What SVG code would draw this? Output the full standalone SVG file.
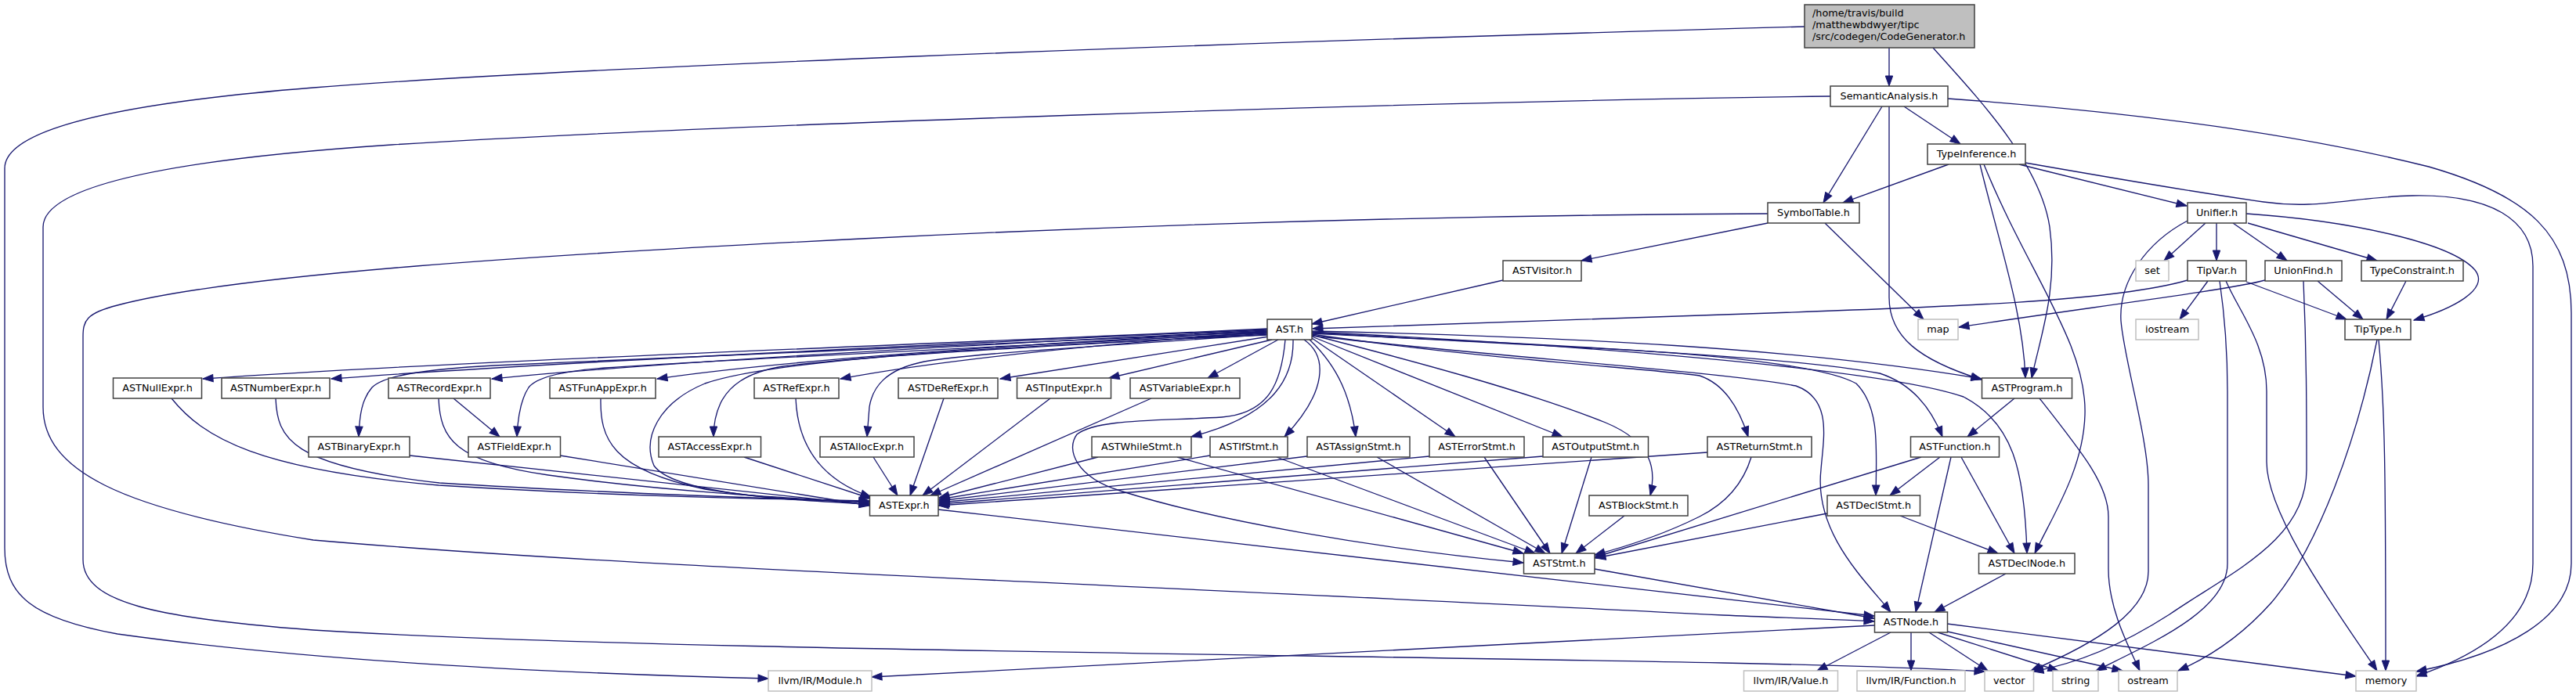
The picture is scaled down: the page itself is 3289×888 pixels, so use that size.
<svg xmlns="http://www.w3.org/2000/svg" width="3289" height="888" viewBox="0 0 3289 888">
<style>
.e{fill:none;stroke:#191970;stroke-width:1.33;marker-end:url(#ah)}
.n rect{fill:#ffffff;stroke:#404040;stroke-width:1.5}
.g rect{fill:#ffffff;stroke:#bfbfbf;stroke-width:1.5}
text{font-family:"DejaVu Sans","Liberation Sans",sans-serif;font-size:12.8px;fill:#000000;text-anchor:middle}
</style>
<defs>
<marker id="ah" markerUnits="userSpaceOnUse" markerWidth="14" markerHeight="10" refX="13" refY="4.7" orient="auto" overflow="visible">
<path d="M0,0 L13,4.7 L0,9.4 z" fill="#191970" stroke="#191970" stroke-width="1"/>
</marker>
</defs>
<rect width="3289" height="888" fill="#ffffff"/>
<g id="edges">
<path class="e" d="M2412,61 L2412,110"/>
<path class="e" d="M2468,61 C2530,130 2605,210 2617,290 C2628,370 2605,430 2594,483"/>
<path class="e" d="M2304,34 C1500,56 700,88 400,112 C150,132 6,165 6,215 L6,700 C6,760 40,790 150,810 C400,845 700,860 981,867"/>
<path class="e" d="M2337,123 C1800,130 900,160 500,185 C200,205 55,240 55,290 L55,520 C55,600 150,650 400,690 C800,725 1400,745 2200,786 C2300,790 2360,792 2393,794"/>
<path class="e" d="M2257,273 C1800,275 1400,290 1100,305 C700,325 300,350 150,390 C110,400 106,410 106,430 L106,715 C106,770 200,790 400,805 C800,830 1600,835 2200,847 C2400,851 2480,855 2534,858"/>
<path class="e" d="M2431,136 L2503,184"/>
<path class="e" d="M2403,136 L2328,259"/>
<path class="e" d="M2412,136 L2412,380 C2412,430 2450,460 2530,485"/>
<path class="e" d="M2487,126 C2750,145 2950,175 3101,213 C3230,250 3283,300 3283,400 L3283,720 C3283,790 3200,835 3085,858"/>
<path class="e" d="M2488,210 L2353,259"/>
<path class="e" d="M2578,210 L2792,263"/>
<path class="e" d="M2586,208 C2700,228 2820,248 2890,258 C2960,268 3000,252 3080,250 C3180,248 3234,280 3234,340 L3234,720 C3234,790 3170,835 3085,864"/>
<path class="e" d="M2528,210 C2555,320 2583,400 2586,483"/>
<path class="e" d="M2533,210 C2590,350 2665,440 2662,530 C2660,600 2620,660 2598,707"/>
<path class="e" d="M2257,285 L2019,333"/>
<path class="e" d="M2330,285 L2456,408"/>
<path class="e" d="M1919,358 L1675,414"/>
<path class="e" d="M2816,285 L2763,333"/>
<path class="e" d="M2830,285 L2830,333"/>
<path class="e" d="M2851,285 L2920,333"/>
<path class="e" d="M2870,285 L3035,333"/>
<path class="e" d="M2868,273 C3000,282 3130,310 3160,345 C3180,370 3130,395 3082,409"/>
<path class="e" d="M2793,282 C2740,310 2705,360 2708,410 C2712,460 2743,560 2743,620 L2743,730 C2743,780 2680,820 2593,857"/>
<path class="e" d="M2793,358 C2700,385 2500,392 2200,402 C1950,410 1750,416 1676,420"/>
<path class="e" d="M2819,359 L2783,408"/>
<path class="e" d="M2868,360 L2996,408"/>
<path class="e" d="M2834,359 C2840,400 2844,450 2844,500 L2844,720 C2844,780 2750,820 2676,857"/>
<path class="e" d="M2842,359 C2860,400 2894,440 2894,500 L2894,590 C2894,660 2990,790 3035,857"/>
<path class="e" d="M2892,358 C2850,370 2650,395 2501,418"/>
<path class="e" d="M2959,359 L3017,408"/>
<path class="e" d="M2941,359 C2945,450 2945,520 2945,600 C2945,690 2850,730 2770,785 C2700,830 2640,850 2596,858"/>
<path class="e" d="M3072,359 L3047,408"/>
<path class="e" d="M3035,434 C3010,560 2960,700 2900,770 C2860,815 2820,840 2781,857"/>
<path class="e" d="M3037,434 C3045,520 3046,600 3046,857"/>
<path class="e" d="M2572,509 L2512,558"/>
<path class="e" d="M2604,509 C2660,580 2692,620 2692,660 L2692,727 C2692,780 2720,830 2732,857"/>
<path class="e" d="M2477,584 L2413,633"/>
<path class="e" d="M2504,584 L2572,707"/>
<path class="e" d="M2491,584 L2446,782"/>
<path class="e" d="M2453,584 L2036,712"/>
<path class="e" d="M2333,656 L2037,713"/>
<path class="e" d="M2426,659 L2551,707"/>
<path class="e" d="M2561,733 L2470,782"/>
<path class="e" d="M2236,584 C2225,620 2200,645 2170,660 C2120,685 2070,700 2036,709"/>
<path class="e" d="M2180,578 L1198,646"/>
<path class="e" d="M1402,584 L1199,636"/>
<path class="e" d="M1545,582 L1199,638"/>
<path class="e" d="M1669,583 L1199,640"/>
<path class="e" d="M1825,583 L1199,642"/>
<path class="e" d="M1970,583 L1199,644"/>
<path class="e" d="M1503,584 L1945,707"/>
<path class="e" d="M1630,584 L1960,707"/>
<path class="e" d="M1758,584 L1973,707"/>
<path class="e" d="M1895,584 L1979,707"/>
<path class="e" d="M2032,584 L1994,707"/>
<path class="e" d="M2074,659 L2012,707"/>
<path class="e" d="M1198,651 L2393,787"/>
<path class="e" d="M2036,727 L2393,790"/>
<path class="e" d="M2393,799 L1113,865"/>
<path class="e" d="M2414,808 L2320,857"/>
<path class="e" d="M2440,808 L2440,857"/>
<path class="e" d="M2463,808 L2538,857"/>
<path class="e" d="M2474,808 L2628,857"/>
<path class="e" d="M2482,806 L2710,857"/>
<path class="e" d="M2486,797 L3008,864"/>
<path class="e" d="M219,509 C260,560 330,600 560,620 C800,635 1000,638 1110,640"/>
<path class="e" d="M352,509 C354,560 370,595 561,617 C800,632 1000,637 1110,641"/>
<path class="e" d="M560,509 C562,560 580,590 700,607 C850,628 1000,636 1110,642"/>
<path class="e" d="M579,509 L638,558"/>
<path class="e" d="M767,509 C766,560 780,600 900,625 C980,638 1050,641 1110,644"/>
<path class="e" d="M523,582 L1110,645"/>
<path class="e" d="M715,582 L1110,646"/>
<path class="e" d="M950,584 L1112,637"/>
<path class="e" d="M1016,509 C1018,560 1040,610 1112,635"/>
<path class="e" d="M1115,584 L1146,633"/>
<path class="e" d="M1205,509 L1162,633"/>
<path class="e" d="M1341,509 L1178,633"/>
<path class="e" d="M1470,509 L1188,633"/>
<path class="e" d="M1618,420 C1200,440 600,460 259,484"/>
<path class="e" d="M1618,421 C1200,440 700,463 423,484"/>
<path class="e" d="M1618,422 C1250,440 850,462 628,484"/>
<path class="e" d="M1618,423 C1300,440 1000,460 839,484"/>
<path class="e" d="M1618,424 C1400,440 1200,460 1073,484"/>
<path class="e" d="M1620,430 L1277,484"/>
<path class="e" d="M1624,434 L1416,483"/>
<path class="e" d="M1632,434 L1542,483"/>
<path class="e" d="M1618,424 C1300,438 900,455 631,467 C540,472 490,480 475,495 C462,510 459,530 458,558"/>
<path class="e" d="M1618,425 C1350,440 1000,455 772,470 C720,474 685,482 675,495 C665,510 661,535 660,558"/>
<path class="e" d="M1618,426 C1400,440 1150,450 1000,468 C950,476 930,495 920,515 C913,530 911,545 911,558"/>
<path class="e" d="M1618,427 C1450,440 1250,450 1180,462 C1130,472 1114,495 1110,520 L1107,558"/>
<path class="e" d="M1618,428 C1350,440 1000,455 900,490 C840,515 820,560 835,595 C860,630 1000,640 1110,641"/>
<path class="e" d="M1651,434 C1652,480 1630,530 1521,558"/>
<path class="e" d="M1641,434 C1636,490 1620,528 1560,533 C1480,538 1400,535 1375,555 C1360,575 1375,610 1430,627 C1550,665 1750,700 1945,719"/>
<path class="e" d="M1665,434 C1695,455 1695,500 1640,558"/>
<path class="e" d="M1672,434 C1710,470 1725,510 1731,558"/>
<path class="e" d="M1675,432 L1858,558"/>
<path class="e" d="M1675,430 L1995,558"/>
<path class="e" d="M1675,428 C1800,460 1950,500 2050,540 C2110,565 2115,600 2107,633"/>
<path class="e" d="M1675,427 C1900,460 2100,470 2170,480 C2200,490 2220,520 2232,558"/>
<path class="e" d="M1675,425 C1900,440 2250,450 2400,477 C2440,490 2465,520 2480,558"/>
<path class="e" d="M1675,426 C1950,440 2300,450 2370,490 C2400,520 2396,570 2395,633"/>
<path class="e" d="M1675,424 C2000,440 2400,470 2507,507 C2570,540 2585,600 2588,707"/>
<path class="e" d="M1675,429 C1900,455 2200,475 2293,493 C2340,510 2328,560 2325,600 C2316,680 2380,740 2414,782"/>
<path class="e" d="M1675,423 C2000,430 2300,445 2530,484"/>
</g>
<g id="n_codegen" class="n"><rect x="2304" y="6" width="217" height="55" style="fill:#bfbfbf"/><text x="2314" y="21" style="text-anchor:start">/home/travis/build</text><text x="2314" y="36" style="text-anchor:start">/matthewbdwyer/tipc</text><text x="2314" y="51" style="text-anchor:start">/src/codegen/CodeGenerator.h</text></g>
<g id="n_semantic" class="n"><rect x="2337" y="110" width="150" height="26"/><text x="2412" y="127">SemanticAnalysis.h</text></g>
<g id="n_typeinf" class="n"><rect x="2461" y="184" width="125" height="26"/><text x="2523.5" y="201">TypeInference.h</text></g>
<g id="n_symtab" class="n"><rect x="2257" y="259" width="117" height="26"/><text x="2315.5" y="276">SymbolTable.h</text></g>
<g id="n_unifier" class="n"><rect x="2793" y="259" width="75" height="26"/><text x="2830.5" y="276">Unifier.h</text></g>
<g id="n_visitor" class="n"><rect x="1919" y="333" width="100" height="26"/><text x="1969" y="350">ASTVisitor.h</text></g>
<g id="n_set" class="g"><rect x="2727" y="333" width="42" height="26"/><text x="2748" y="350">set</text></g>
<g id="n_tipvar" class="n"><rect x="2793" y="333" width="75" height="26"/><text x="2830.5" y="350">TipVar.h</text></g>
<g id="n_unionfind" class="n"><rect x="2892" y="333" width="98" height="26"/><text x="2941" y="350">UnionFind.h</text></g>
<g id="n_typecons" class="n"><rect x="3015" y="333" width="130" height="26"/><text x="3080" y="350">TypeConstraint.h</text></g>
<g id="n_ast" class="n"><rect x="1618" y="408" width="57" height="26"/><text x="1646.5" y="425">AST.h</text></g>
<g id="n_map" class="g"><rect x="2449" y="408" width="51" height="26"/><text x="2474.5" y="425">map</text></g>
<g id="n_iostream" class="g"><rect x="2727" y="408" width="80" height="26"/><text x="2767" y="425">iostream</text></g>
<g id="n_tiptype" class="n"><rect x="2994" y="408" width="84" height="26"/><text x="3036" y="425">TipType.h</text></g>
<g id="n_null" class="n"><rect x="144.5" y="483" width="113" height="26"/><text x="201" y="500">ASTNullExpr.h</text></g>
<g id="n_number" class="n"><rect x="283" y="483" width="138" height="26"/><text x="352" y="500">ASTNumberExpr.h</text></g>
<g id="n_record" class="n"><rect x="496" y="483" width="130" height="26"/><text x="561" y="500">ASTRecordExpr.h</text></g>
<g id="n_funapp" class="n"><rect x="702" y="483" width="135" height="26"/><text x="769.5" y="500">ASTFunAppExpr.h</text></g>
<g id="n_ref" class="n"><rect x="963" y="483" width="108" height="26"/><text x="1017" y="500">ASTRefExpr.h</text></g>
<g id="n_deref" class="n"><rect x="1147" y="483" width="127" height="26"/><text x="1210.5" y="500">ASTDeRefExpr.h</text></g>
<g id="n_input" class="n"><rect x="1298.5" y="483" width="120" height="26"/><text x="1358.5" y="500">ASTInputExpr.h</text></g>
<g id="n_variable" class="n"><rect x="1443" y="483" width="140" height="26"/><text x="1513" y="500">ASTVariableExpr.h</text></g>
<g id="n_program" class="n"><rect x="2530.5" y="483" width="115" height="26"/><text x="2588" y="500">ASTProgram.h</text></g>
<g id="n_binary" class="n"><rect x="394" y="558" width="129" height="26"/><text x="458.5" y="575">ASTBinaryExpr.h</text></g>
<g id="n_field" class="n"><rect x="598" y="558" width="117.5" height="26"/><text x="656.75" y="575">ASTFieldExpr.h</text></g>
<g id="n_access" class="n"><rect x="841" y="558" width="130.5" height="26"/><text x="906.25" y="575">ASTAccessExpr.h</text></g>
<g id="n_alloc" class="n"><rect x="1047" y="558" width="120" height="26"/><text x="1107" y="575">ASTAllocExpr.h</text></g>
<g id="n_while" class="n"><rect x="1394" y="558" width="127" height="26"/><text x="1457.5" y="575">ASTWhileStmt.h</text></g>
<g id="n_if" class="n"><rect x="1545" y="558" width="99" height="26"/><text x="1594.5" y="575">ASTIfStmt.h</text></g>
<g id="n_assign" class="n"><rect x="1669" y="558" width="131" height="26"/><text x="1734.5" y="575">ASTAssignStmt.h</text></g>
<g id="n_error" class="n"><rect x="1825" y="558" width="121" height="26"/><text x="1885.5" y="575">ASTErrorStmt.h</text></g>
<g id="n_output" class="n"><rect x="1970" y="558" width="134.5" height="26"/><text x="2037.25" y="575">ASTOutputStmt.h</text></g>
<g id="n_return" class="n"><rect x="2180" y="558" width="133" height="26"/><text x="2246.5" y="575">ASTReturnStmt.h</text></g>
<g id="n_function" class="n"><rect x="2439.5" y="558" width="113" height="26"/><text x="2496" y="575">ASTFunction.h</text></g>
<g id="n_expr" class="n"><rect x="1110.5" y="633" width="87.5" height="26"/><text x="1154.25" y="650">ASTExpr.h</text></g>
<g id="n_block" class="n"><rect x="2029" y="633" width="126" height="26"/><text x="2092" y="650">ASTBlockStmt.h</text></g>
<g id="n_declstmt" class="n"><rect x="2333" y="633" width="118.5" height="26"/><text x="2392.25" y="650">ASTDeclStmt.h</text></g>
<g id="n_stmt" class="n"><rect x="1945.5" y="707" width="90.5" height="26"/><text x="1990.75" y="724">ASTStmt.h</text></g>
<g id="n_declnode" class="n"><rect x="2526.5" y="707" width="122.5" height="26"/><text x="2587.75" y="724">ASTDeclNode.h</text></g>
<g id="n_node" class="n"><rect x="2393.5" y="782" width="93" height="26"/><text x="2440" y="799">ASTNode.h</text></g>
<g id="n_module" class="g"><rect x="981" y="857" width="132" height="26"/><text x="1047" y="874">llvm/IR/Module.h</text></g>
<g id="n_value" class="g"><rect x="2226.5" y="857" width="120" height="26"/><text x="2286.5" y="874">llvm/IR/Value.h</text></g>
<g id="n_function_ir" class="g"><rect x="2371" y="857" width="138" height="26"/><text x="2440" y="874">llvm/IR/Function.h</text></g>
<g id="n_vector" class="g"><rect x="2534" y="857" width="62.5" height="26"/><text x="2565.25" y="874">vector</text></g>
<g id="n_string" class="g"><rect x="2621" y="857" width="58" height="26"/><text x="2650" y="874">string</text></g>
<g id="n_ostream" class="g"><rect x="2705" y="857" width="75" height="26"/><text x="2742.5" y="874">ostream</text></g>
<g id="n_memory" class="g"><rect x="3008" y="857" width="77" height="26"/><text x="3046.5" y="874">memory</text></g>
</svg>
